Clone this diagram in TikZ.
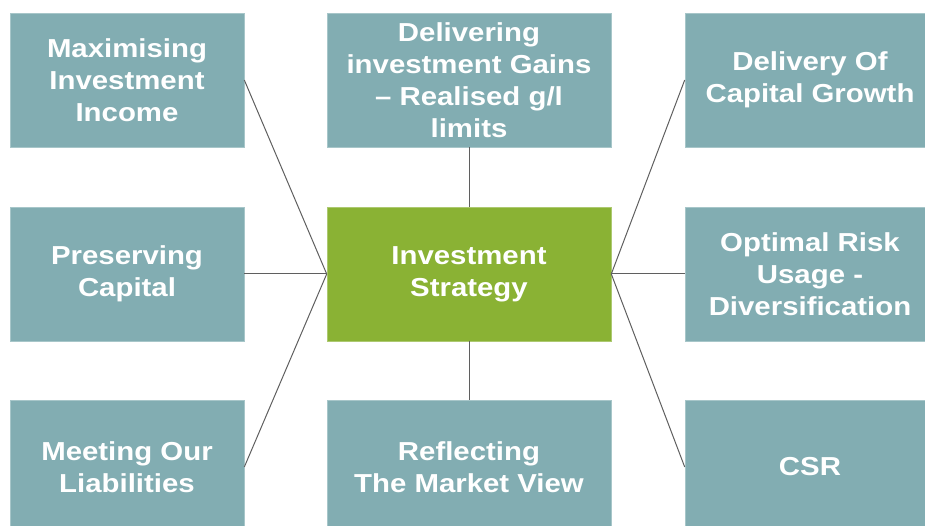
\documentclass[tikz,border=0pt]{standalone}
\usepackage{fontspec}
\setmainfont{Liberation Sans}[FakeStretch=1.13]
\begin{document}
\definecolor{tealbox}{RGB}{130,173,178}
\definecolor{greenbox}{RGB}{138,178,52}
\definecolor{linkgray}{RGB}{95,95,95}
\begin{tikzpicture}[x=1pt,y=-1pt,
  box/.style={fill=tealbox, draw=tealbox!70!white, line width=0.6pt,
    minimum width=234pt, minimum height=134pt, inner sep=0pt,
    align=center, text=white,
    font=\fontsize{26}{32}\selectfont\bfseries},
  midbox/.style={box, minimum width=284pt},
  hub/.style={midbox, fill=greenbox, draw=greenbox!70!white},
  link/.style={draw=linkgray, line width=1pt}]
\useasboundingbox (0,0) rectangle (925,526);
\begin{scope}
\clip (0,0) rectangle (925,526);
% left column
\node[box] (mi) at (127,80) {Maximising\\Investment\\Income};
\node[box] (pc) at (127,274) {Preserving\\Capital};
\node[box] (ml) at (127,467) {Meeting Our\\Liabilities};
% centre column
\node[midbox] (dg) at (469,80) {Delivering\\investment Gains\\-- Realised g/l\\limits};
\node[hub] (is) at (469,274) {Investment\\Strategy};
\node[midbox] (rm) at (469,467) {Reflecting\\The Market View};
% right column
\node[box, minimum width=250pt] (dc) at (810,80) {Delivery Of\\Capital Growth};
\node[box, minimum width=250pt] (or) at (810,274) {Optimal Risk\\Usage -\\Diversification};
\node[box, minimum width=250pt] (cs) at (810,467) {CSR};
\end{scope}
% connectors from the hub
\draw[link] (mi.east) -- (is.west);
\draw[link] (pc.east) -- (is.west);
\draw[link] (ml.east) -- (is.west);
\draw[link] (dg.south) -- (is.north);
\draw[link] (rm.north) -- (is.south);
\draw[link] (dc.west) -- (is.east);
\draw[link] (or.west) -- (is.east);
\draw[link] (cs.west) -- (is.east);
\end{tikzpicture}
\end{document}
